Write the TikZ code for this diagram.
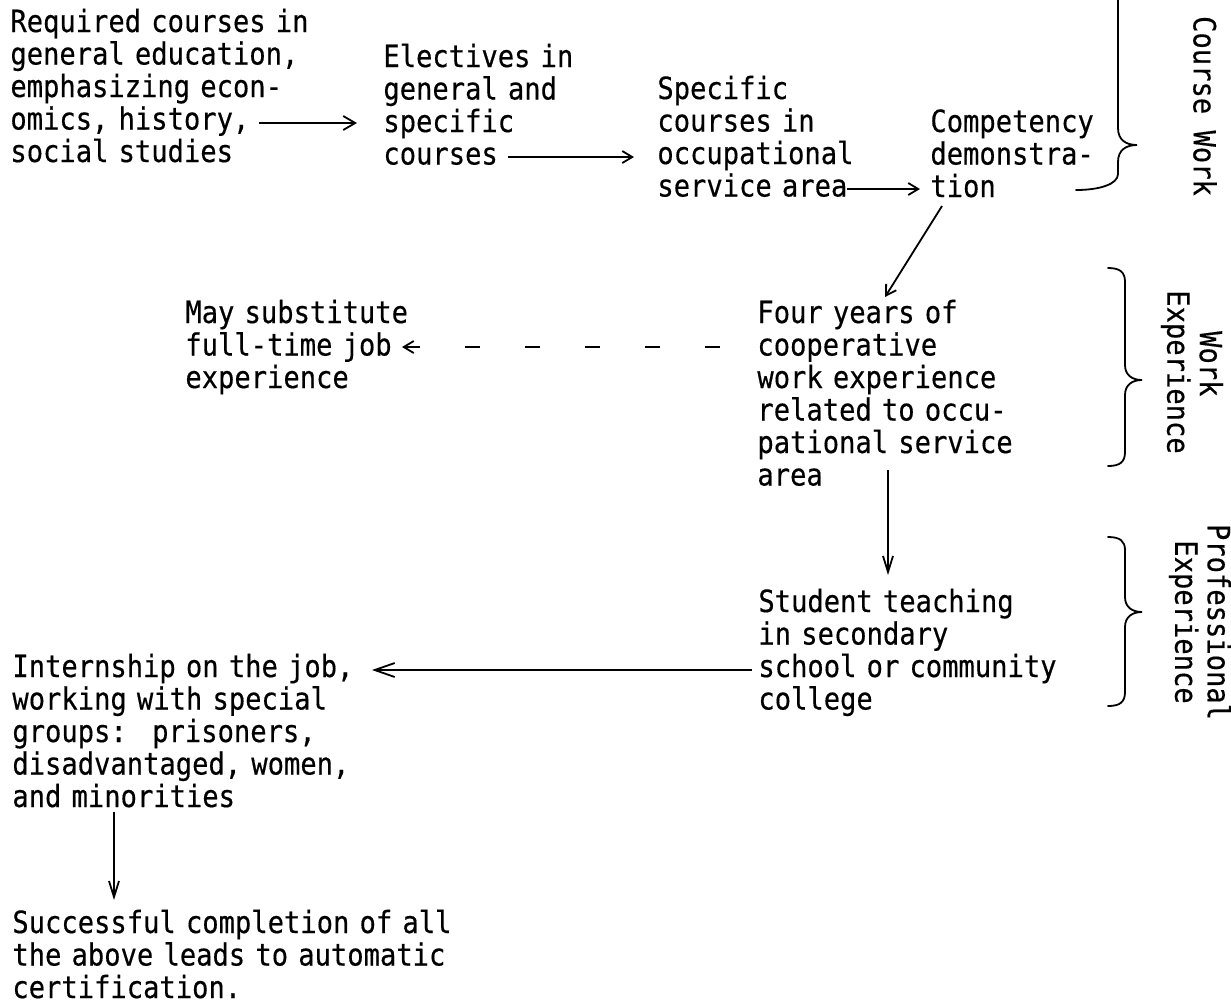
\documentclass[tikz,border=0pt]{standalone}
\usepackage{fontspec}
\usetikzlibrary{arrows.meta}
\newfontfamily\tw[FakeStretch=0.887, FakeBold=0.4]{DejaVu Sans Mono}
\newcommand{\maq}{\tw\fontsize{15.3pt}{16.25pt}\selectfont
  \fontdimen2\font=\fontcharwd\font`x\relax\fontdimen3\font=0pt\fontdimen4\font=0pt\relax}

\begin{document}
\begin{tikzpicture}[x=0.5pt, y=-0.5pt,
    bloque/.style={font=\maq, align=left, text width=8.5cm, inner sep=0pt, anchor=base west},
    etiqueta/.style={font=\maq, align=center, inner sep=0pt, rotate=-90},
    flecha/.style={line width=0.9pt, -{Straight Barb[length=5pt, width=6pt]}},
    llave/.style={line width=0.9pt, line cap=round}]
          \useasboundingbox (0,0) rectangle (1231,1003);

          % Bloques
          \node[bloque] (req) at (10,32) {Required courses in\\general education,\\emphasizing econ-\\omics, history,\\social studies};
          \node[bloque] (elec) at (383,67) {Electives in\\general and\\specific\\courses};
          \node[bloque] (spec) at (657,99) {Specific\\courses in\\occupational\\service area};
          \node[bloque] (comp) at (930,132) {Competency\\demonstra-\\tion};
          \node[bloque] (four) at (757,323) {Four years of\\cooperative\\work experience\\related to occu-\\pational service\\area};
          \node[bloque] (may) at (185,323) {May substitute\\full-time job\\experience};
          \node[bloque] (stud) at (758,612) {Student teaching\\in secondary\\school or community\\college};
          \node[bloque] (intern) at (12,677) {Internship on the job,\\working with special\\groups: \ prisoners,\\disadvantaged, women,\\and minorities};
          \node[bloque] (succ) at (12,933) {Successful completion of all\\the above leads to automatic\\certification.};

          % Etiquetas
          \node[etiqueta] (cw) at (1205,106) {Course Work};
          \node[etiqueta] (we) at (1192,372) {Work\phantom{E}\\Experience};
          \node[etiqueta] (pe) at (1200,622) {Professional\\Experience};

          % Flechas
          \draw[flecha, -{Straight Barb[length=6pt, width=7pt]}] ([shift={(249,91)}]req.base west) -- ([shift={(-26,56)}]elec.base west);
          \draw[flecha] ([shift={(125,90)}]elec.base west) -- ([shift={(-23,58)}]spec.base west);
          \draw[flecha] ([shift={(190,90)}]spec.base west) -- ([shift={(-10,57)}]comp.base west);
          \draw[flecha] ([shift={(12,74)}]comp.base west) -- ([shift={(128,-26)}]four.base west);
          \draw[flecha, dash pattern=on 7.5pt off 22.5pt] ([shift={(-37,24)}]four.base west) -- ([shift={(217,24)}]may.base west);
          \draw[flecha, -{Straight Barb[length=8pt, width=5pt]}] ([shift={(131,147)}]four.base west) -- ([shift={(130,-37)}]stud.base west);
          \draw[flecha, -{Straight Barb[length=10pt, width=7pt]}] ([shift={(-6,58)}]stud.base west) -- ([shift={(360,-7)}]intern.base west);
          \draw[flecha, -{Straight Barb[length=8pt, width=5pt]}] ([shift={(102,135)}]intern.base west) -- ([shift={(102,-33)}]succ.base west);

          % Llaves
          \draw[llave] (1118,-2) -- (1118,128) .. controls (1118,140) and (1126,145) .. (1137,145)
            .. controls (1126,145) and (1118,150) .. (1118,162) -- (1118,174)
            .. controls (1118,184) and (1100,190) .. (1076,190);
          \draw[llave] (1108,268) .. controls (1120,268) and (1125,272) .. (1125,282) -- (1125,365)
            .. controls (1125,375) and (1132,380) .. (1142,380) .. controls (1132,380) and (1125,385) .. (1125,395)
            -- (1125,452) .. controls (1125,462) and (1120,466) .. (1108,466);
          \draw[llave] (1108,537) .. controls (1120,537) and (1125,541) .. (1125,550) -- (1125,597)
            .. controls (1125,607) and (1132,612) .. (1142,612) .. controls (1132,612) and (1125,617) .. (1125,627)
            -- (1125,692) .. controls (1125,702) and (1120,706) .. (1108,706);
        \end{tikzpicture}
\end{document}
